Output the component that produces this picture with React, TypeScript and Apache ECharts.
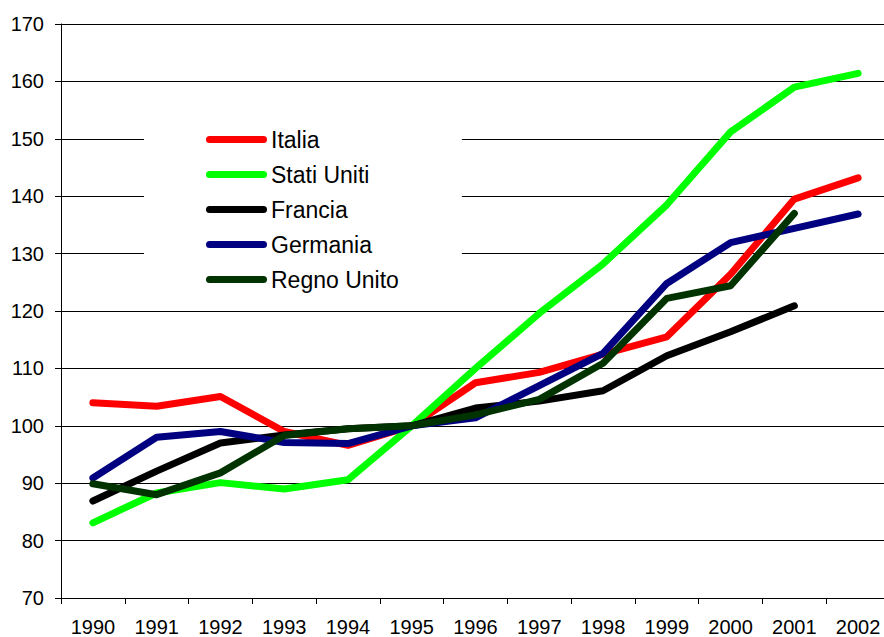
import React, { useEffect, useRef } from "react";
import * as echarts from "echarts";

const years = ["1990","1991","1992","1993","1994","1995","1996","1997","1998","1999","2000","2001","2002"];
const italia = [104, 103.4, 105.1, 99, 96.6, 100, 107.5, 109.3, 112.5, 115.5, 126.4, 139.5, 143.2];
const statiUniti = [83.1, 88.3, 90.1, 89, 90.6, 100, 110, 119.6, 128.2, 138.5, 151.2, 159, 161.4];
const francia = [86.9, 92.1, 97, 98.4, 99.5, 100, 103.1, 104.3, 106.1, 112.2, 116.4, 120.9, null];
const germania = [90.9, 98, 99, 97.1, 96.9, 100, 101.4, 107, 112.6, 124.8, 131.9, 134.4, 136.9];
const regnoUnito = [89.9, 88, 91.8, 98.3, 99.5, 100, 101.9, 104.6, 110.9, 122.2, 124.4, 137, null];

const seriesNames = ["Italia", "Stati Uniti", "Francia", "Germania", "Regno Unito"];
const seriesData = [italia, statiUniti, francia, germania, regnoUnito];
const seriesColors = ["#ff0000", "#00ff00", "#000000", "#000080", "#003300"];

const FONT = "'Liberation Sans', Arial, sans-serif";

export default function App() {
  const ref = useRef<HTMLDivElement>(null);
  useEffect(() => {
    if (!ref.current) return;
    const chart = echarts.init(ref.current, null, { renderer: "svg" });
    chart.setOption({
      animation: false,
      backgroundColor: "#fff",
      textStyle: { fontFamily: FONT },
      grid: { left: 61, right: 0, top: 24, bottom: 39, containLabel: false },
      legend: {
        orient: "vertical",
        left: 144,
        top: 108,
        padding: [14, 63, 12, 62],
        backgroundColor: "#fff",
        itemWidth: 61,
        itemHeight: 7,
        itemGap: 0,
        icon: "path://M3.5,0 H57.5 A3.5,3.5 0 0 1 57.5,7 H3.5 A3.5,3.5 0 0 1 3.5,0 Z",
        textStyle: { fontSize: 23, color: "#000", fontFamily: FONT, lineHeight: 35, padding: [0, 0, 0, -1] },
        data: seriesNames,
      },
      xAxis: {
        type: "category",
        data: years,
        boundaryGap: true,
        axisLine: { lineStyle: { color: "#000", width: 1 } },
        axisTick: { show: true, length: 6, lineStyle: { color: "#000" } },
        axisLabel: { fontSize: 20, color: "#000", margin: 19, fontFamily: FONT },
        splitLine: { show: false },
      },
      yAxis: {
        type: "value",
        min: 70,
        max: 170,
        interval: 10,
        axisLine: { show: true, lineStyle: { color: "#000", width: 1 } },
        axisTick: { show: true, length: 6, lineStyle: { color: "#000" } },
        axisLabel: { fontSize: 20, color: "#000", margin: 17, fontFamily: FONT },
        splitLine: { show: true, lineStyle: { color: "#000", width: 1 } },
      },
      series: seriesNames.map((name, i) => ({
        name,
        type: "line",
        data: seriesData[i],
        symbol: "none",
        connectNulls: false,
        color: seriesColors[i],
        lineStyle: { width: 7, color: seriesColors[i], cap: "round", join: "round" },
        z: 2 + i,
      })),
    });
    return () => chart.dispose();
  }, []);
  return (
    <div style={{ position: "absolute", left: 0, top: 0, width: 884, height: 637, overflow: "hidden", background: "#fff" }}>
      <div ref={ref} style={{ width: 890, height: 637 }} />
    </div>
  );
}
